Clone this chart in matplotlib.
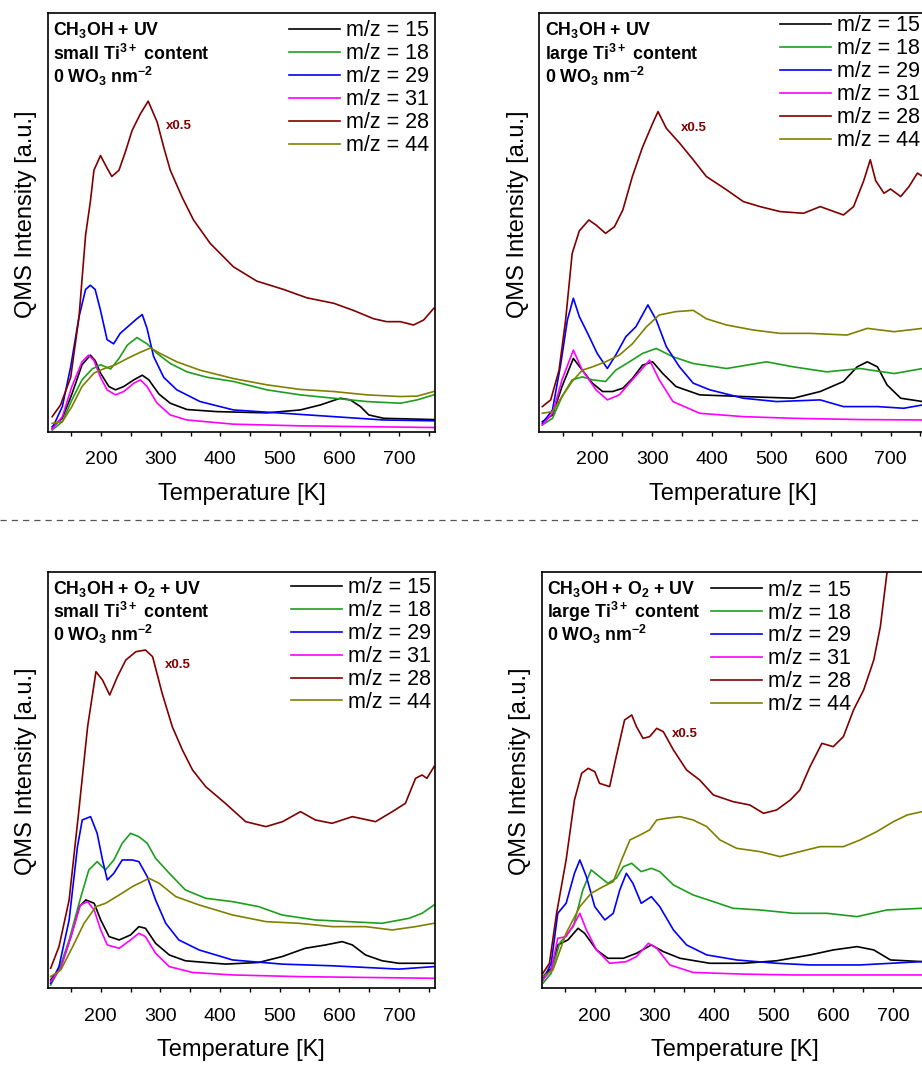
import matplotlib
matplotlib.use('Agg')
import matplotlib.pyplot as plt
from matplotlib.lines import Line2D
from matplotlib.ticker import MultipleLocator

plt.rcParams['font.family'] = 'Liberation Sans'
plt.rcParams['mathtext.fontset'] = 'custom'
plt.rcParams['mathtext.rm'] = 'Liberation Sans'
plt.rcParams['mathtext.bf'] = 'Liberation Sans:bold'
plt.rcParams['mathtext.default'] = 'bf'

# m/z-Reihenfolge wie in der Legende
masses = ['15', '18', '29', '31', '28', '44']

# --- Panel a: CH3OH + UV, small Ti3+ ---
a15_T = [118, 135, 151, 168, 182, 190, 199, 213, 224, 238, 255, 269, 280, 297, 316, 344, 394, 478, 534, 568, 601, 618, 635, 649, 674, 758]
a15 = [1.2, 3.2, 9, 16, 18.3, 17, 14, 10.8, 10, 10.8, 12.4, 13.5, 12.4, 9, 6.8, 5.3, 4.8, 4.5, 5.2, 6.4, 8, 7.6, 6, 4, 3.2, 2.9]
a18_T = [118, 135, 151, 168, 185, 199, 216, 230, 244, 260, 277, 294, 316, 344, 378, 422, 478, 534, 590, 646, 702, 730, 758]
a18 = [0.4, 2.4, 7.6, 12.4, 15, 16, 15, 17.5, 20.7, 22.5, 21, 18.7, 16.3, 14.3, 13, 12, 10, 8.8, 8, 7.2, 6.8, 7.6, 8.8]
a29_T = [118, 135, 149, 163, 174, 182, 190, 199, 210, 221, 232, 244, 260, 269, 277, 288, 305, 327, 366, 422, 506, 590, 674, 758]
a29 = [0.8, 6, 15.5, 27.5, 34, 35, 34, 29, 22, 21, 23.5, 25, 27, 28, 24.7, 18, 13, 10, 7.2, 5.2, 4.4, 3.6, 2.8, 2.6]
a31_T = [118, 135, 151, 168, 179, 188, 199, 210, 224, 238, 255, 266, 277, 294, 316, 344, 422, 534, 646, 758]
a31 = [0.6, 3.6, 10.8, 16.7, 18.3, 17, 13, 10, 8.8, 9.6, 11.6, 12.4, 10.8, 6.8, 4, 2.8, 1.8, 1.4, 1.2, 1.0]
a28_T = [118, 132, 149, 163, 174, 182, 188, 199, 210, 218, 230, 241, 252, 266, 279, 294, 305, 316, 336, 355, 383, 422, 461, 506, 545, 590, 623, 657, 679, 702, 724, 741, 758]
a28 = [3.6, 6.4, 13, 27.5, 47, 55, 62.5, 66, 63, 61, 62.5, 67, 72, 76, 79, 74, 68, 62.5, 56, 50.6, 45, 39.4, 36, 34, 32, 30.7, 29, 27, 26.3, 26.3, 25.5, 26.7, 29.5]
a44_T = [118, 135, 151, 168, 188, 204, 224, 244, 266, 283, 299, 327, 366, 422, 478, 534, 590, 646, 702, 730, 758]
a44 = [2, 2.4, 6, 10.8, 14, 15, 16, 17.5, 19, 20, 18.7, 16.7, 14.7, 12.7, 11.2, 10.1, 9.6, 8.8, 8.4, 8.5, 9.6]

# --- Panel b: CH3OH + UV, large Ti3+ ---
b15_T = [116, 133, 149, 168, 183, 200, 217, 234, 251, 267, 284, 301, 318, 340, 380, 453, 537, 582, 621, 644, 661, 678, 694, 717, 754]
b15 = [2.4, 4, 10.8, 17.5, 14.7, 11.6, 9.6, 9.6, 10.4, 12.7, 15.9, 16.7, 13.9, 10.8, 8.8, 8.4, 8, 9.6, 12, 15.5, 16.7, 15.5, 11.2, 8, 7.2]
b18_T = [116, 133, 149, 166, 183, 200, 222, 239, 262, 284, 307, 335, 369, 425, 492, 537, 593, 649, 706, 754]
b18 = [1.6, 3.2, 8.4, 12.4, 13.1, 12.4, 12, 14.7, 16.7, 18.7, 19.9, 17.9, 16.3, 15.1, 16.7, 15.5, 14.3, 15.1, 13.9, 15.1]
b29_T = [116, 133, 147, 158, 168, 178, 192, 208, 225, 239, 256, 273, 293, 307, 324, 346, 369, 397, 453, 509, 582, 621, 678, 722, 754]
b29 = [2, 5.2, 16.3, 26.7, 31.9, 27.5, 23.5, 18.7, 15.1, 18.3, 22.7, 25.1, 30.3, 26.7, 20.3, 15.5, 11.6, 10, 8, 7.2, 7.6, 6, 6, 5.6, 6.4]
b31_T = [116, 133, 149, 168, 183, 206, 225, 245, 267, 296, 312, 335, 380, 453, 537, 649, 754]
b31 = [1.6, 4.4, 12.4, 19.5, 14.7, 10, 7.6, 8.8, 12.4, 17.1, 12.4, 7.2, 4.4, 3.6, 3.2, 2.9, 2.8]
b28_T = [116, 130, 144, 155, 166, 178, 194, 206, 222, 237, 251, 267, 284, 301, 310, 324, 346, 369, 391, 425, 453, 481, 515, 554, 582, 621, 638, 655, 666, 675, 689, 700, 717, 731, 745, 754]
b28 = [6, 7.6, 14.7, 26.7, 42.6, 48, 50.6, 49.4, 47.4, 49, 53, 61, 68, 73.7, 76.5, 72.5, 69, 65, 61, 57.8, 55, 53.8, 52.6, 52.2, 53.8, 51.8, 53.8, 60, 65, 60, 57, 58, 56.2, 58.6, 61.8, 61]
b44_T = [116, 133, 149, 166, 183, 200, 222, 245, 267, 290, 312, 340, 369, 391, 425, 470, 515, 565, 627, 661, 706, 754]
b44 = [4.4, 4.8, 8.4, 12, 14.7, 15.5, 16.7, 18.3, 21, 25, 27.9, 28.7, 29, 27, 25.5, 24.3, 23.5, 23.5, 23.1, 24.7, 23.9, 24.7]

# --- Panel c: CH3OH + O2 + UV, small Ti3+ ---
c15_T = [116, 133, 150, 164, 175, 189, 200, 214, 231, 250, 264, 275, 292, 315, 342, 409, 465, 504, 543, 577, 605, 622, 644, 672, 700, 759]
c15 = [2, 5.2, 12.4, 19.6, 21.2, 20.4, 16.4, 12.4, 11.6, 12.8, 14.8, 14.4, 10.8, 8, 6.6, 5.8, 6.2, 7.6, 9.6, 10.4, 11.2, 10.4, 8, 6.6, 6, 6]
c18_T = [116, 130, 147, 166, 180, 194, 208, 222, 236, 250, 264, 278, 292, 315, 342, 376, 421, 465, 504, 560, 616, 672, 717, 739, 759]
c18 = [0.8, 4.4, 11.6, 21.6, 28.4, 30.4, 28.4, 30.8, 34.8, 37.2, 36.4, 34.8, 31.2, 27.6, 23.6, 21.6, 20.8, 19.6, 17.6, 16.4, 16, 15.6, 16.8, 18, 20]
c29_T = [116, 130, 147, 161, 169, 183, 194, 203, 211, 222, 236, 253, 264, 278, 292, 309, 331, 365, 421, 504, 588, 700, 759]
c29 = [1.2, 5.2, 16.4, 34, 40.4, 41.2, 37.2, 30.8, 26, 27.6, 30.8, 30.8, 30.4, 26.8, 21.2, 15.6, 11.6, 9.2, 6.8, 5.8, 5.4, 4.6, 5.2]
c31_T = [116, 133, 150, 166, 178, 189, 200, 211, 231, 250, 264, 275, 292, 315, 354, 421, 532, 644, 759]
c31 = [1.6, 4.8, 12.4, 20, 20.8, 18.8, 14, 10.4, 9.6, 11.6, 13.2, 12.4, 8.4, 5.2, 3.8, 3.2, 2.8, 2.6, 2.4]
c28_T = [116, 130, 147, 164, 178, 192, 203, 215, 228, 242, 259, 275, 287, 303, 320, 337, 354, 376, 409, 443, 477, 505, 535, 560, 588, 622, 661, 689, 711, 728, 739, 747, 759]
c28 = [4.8, 10, 21.2, 43.6, 62.8, 76, 74, 70.4, 74.8, 78.8, 80.8, 81.2, 79.6, 70.8, 62.8, 57.2, 52.4, 48.4, 44.4, 40, 38.8, 40, 42.4, 40.4, 39.6, 41.2, 40, 42.4, 44.4, 50.4, 51.2, 50.4, 53.2]
c44_T = [116, 133, 153, 172, 192, 208, 231, 253, 270, 281, 298, 326, 365, 421, 477, 532, 588, 644, 689, 728, 759]
c44 = [2.8, 4.4, 10, 15.6, 19.6, 20.4, 22.4, 24.4, 25.6, 26.4, 25.2, 22, 20, 17.6, 16, 15.6, 14.8, 14.8, 14, 14.8, 15.6]

# --- Panel d: CH3OH + O2 + UV, large Ti3+ ---
d15_T = [113, 127, 138, 155, 172, 183, 203, 222, 248, 270, 295, 315, 343, 393, 449, 505, 561, 600, 640, 668, 696, 749]
d15 = [2.8, 4.8, 10.4, 11.6, 14.4, 13.2, 9.2, 7.2, 7.2, 8.4, 10.4, 8.8, 7.2, 6, 6, 6.6, 8, 9.2, 10, 9.2, 6.8, 6.4]
d18_T = [113, 127, 141, 164, 180, 194, 208, 222, 236, 248, 262, 278, 295, 309, 332, 365, 399, 432, 477, 533, 589, 640, 690, 749]
d18 = [1.2, 3.6, 10.8, 14.8, 23.6, 28.4, 26.8, 25.2, 26.4, 29.2, 30, 28, 28.8, 28, 24.8, 22.4, 20.8, 19.2, 18.8, 18, 18, 17.2, 18.8, 19.2]
d29_T = [113, 127, 138, 152, 166, 175, 186, 200, 217, 231, 242, 253, 264, 278, 295, 309, 332, 354, 388, 438, 505, 561, 645, 749]
d29 = [2, 6, 18, 20.4, 27.6, 30.8, 26.8, 19.6, 16.4, 18, 23.6, 27.6, 25.2, 20.4, 22, 19.6, 14, 10.4, 8, 6.8, 6, 5.6, 5.6, 6.4]
d31_T = [113, 127, 138, 152, 166, 175, 186, 203, 225, 253, 270, 290, 304, 326, 365, 449, 533, 645, 749]
d31 = [2, 4.4, 12, 12.4, 15.6, 18, 14, 9.2, 6, 6.4, 7.6, 10.8, 9.6, 5.6, 3.8, 3.4, 3.2, 3.2, 3.2]
d28_T = [113, 124, 136, 152, 166, 178, 189, 200, 208, 225, 236, 250, 262, 270, 281, 292, 304, 315, 332, 354, 376, 399, 432, 460, 483, 505, 528, 544, 561, 581, 600, 617, 634, 651, 668, 679, 690, 697]
d28 = [3.6, 6, 18, 30.8, 45.2, 51.6, 52.8, 52, 49.2, 48.4, 55.6, 64.4, 65.6, 62.8, 60, 60.4, 62.4, 61.6, 57.2, 52.4, 50, 46.4, 44.8, 44, 42, 42.8, 45.2, 47.6, 53.2, 58.8, 58, 60.4, 66.8, 71.6, 78.8, 86.8, 99.6, 104]
d44_T = [113, 130, 152, 175, 194, 214, 231, 245, 259, 276, 292, 304, 320, 343, 365, 388, 410, 438, 477, 511, 544, 578, 617, 645, 673, 701, 724, 749]
d44 = [2.8, 4.4, 13.2, 19.6, 22.8, 24.4, 25.6, 30.8, 35.6, 36.8, 38, 40.4, 40.8, 41.2, 40.4, 38.8, 35.6, 33.6, 32.8, 31.6, 32.8, 34, 34, 35.6, 37.6, 40, 41.6, 42.4]

# Beschriftungen der Panels
a_text = ['CH$_3$OH + UV', 'small Ti$^{3+}$ content', '0 WO$_3$ nm$^{-2}$']
b_text = ['CH$_3$OH + UV', 'large Ti$^{3+}$ content', '0 WO$_3$ nm$^{-2}$']
c_text = ['CH$_3$OH + O$_2$ + UV', 'small Ti$^{3+}$ content', '0 WO$_3$ nm$^{-2}$']
d_text = ['CH$_3$OH + O$_2$ + UV', 'large Ti$^{3+}$ content', '0 WO$_3$ nm$^{-2}$']

colors = {'15': 'black', '18': '#1e9e1e', '29': '#0000ff', '31': '#ff00ff', '28': '#800000', '44': '#808000'}

panels = [
    ([0.0521, 0.5973, 0.4197, 0.3903], a_text,
     {'15': (a15_T, a15), '18': (a18_T, a18), '29': (a29_T, a29), '31': (a31_T, a31), '28': (a28_T, a28), '44': (a44_T, a44)},
     (0.623, 0.983), (331, 73)),
    ([0.585, 0.5973, 0.4197, 0.3903], b_text,
     {'15': (b15_T, b15), '18': (b18_T, b18), '29': (b29_T, b29), '31': (b31_T, b31), '28': (b28_T, b28), '44': (b44_T, b44)},
     (0.622, 0.995), (370, 72.5)),
    ([0.0517, 0.0781, 0.4197, 0.3886], c_text,
     {'15': (c15_T, c15), '18': (c18_T, c18), '29': (c29_T, c29), '31': (c31_T, c31), '28': (c28_T, c28), '44': (c44_T, c44)},
     (0.628, 0.9865), (330, 77.6)),
    ([0.5875, 0.0781, 0.4197, 0.3886], d_text,
     {'15': (d15_T, d15), '18': (d18_T, d18), '29': (d29_T, d29), '31': (d31_T, d31), '28': (d28_T, d28), '44': (d44_T, d44)},
     (0.437, 0.981), (351, 61)),
]

fig = plt.figure(figsize=(9.22, 10.72), dpi=100)

for pos, texts, curves, leg_xy, x05 in panels:
    ax = fig.add_axes(pos)
    for m in masses:
        T, I = curves[m]
        ax.plot(T, I, color=colors[m], lw=1.2, label='m/z = ' + m)
    ax.set_xlim(111, 760)
    ax.set_ylim(0, 100)
    ax.xaxis.set_major_locator(MultipleLocator(100))
    ax.xaxis.set_minor_locator(MultipleLocator(50))
    ax.tick_params(axis='x', which='both', direction='out', length=3, width=1, labelsize=14, pad=11)
    ax.tick_params(axis='y', left=False, labelleft=False)
    for s in ax.spines.values():
        s.set_linewidth(1.2)
    ax.set_xlabel('Temperature [K]', fontsize=17, labelpad=10.5)
    ax.set_ylabel('QMS Intensity [a.u.]', fontsize=17)
    ax.yaxis.set_label_coords(-0.028, 0.52)
    for k, y in enumerate([0.053, 0.112, 0.167]):
        ax.text(0.014, 1 - y, texts[k], transform=ax.transAxes, fontsize=12.8,
                fontweight='bold', ha='left', va='baseline')
    ax.text(x05[0], x05[1], 'x0.5', color='#800000', fontsize=9.5, fontweight='bold',
            ha='center', va='center')
    ax.legend(loc='upper left', bbox_to_anchor=leg_xy, frameon=False, fontsize=15.5,
              handlelength=2.37, handletextpad=0.28, labelspacing=0.09,
              borderpad=0, borderaxespad=0)

# gestrichelte Trennlinie
fig.add_artist(Line2D([0, 1], [0.515, 0.515], transform=fig.transFigure,
                      ls=(0, (5, 4)), color='#555555', lw=0.9))

plt.savefig('out.png', dpi=100)
